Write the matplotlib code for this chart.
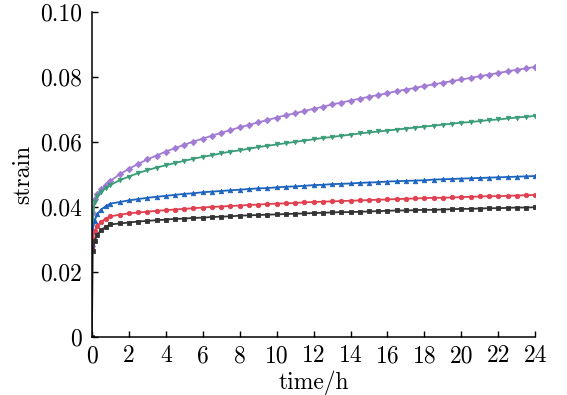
import numpy as np
import matplotlib
matplotlib.use("Agg")
from matplotlib import pyplot as plt

plt.rcParams['font.family'] = ['cmr10', 'DejaVu Serif']
plt.rcParams['axes.formatter.use_mathtext'] = True
plt.rcParams['mathtext.fontset'] = 'cm'

# time points (h)
time_h = [0, 0.05, 0.15, 0.3, 0.5, 0.75, 1,
          1.5, 2, 2.5, 3, 3.5, 4, 4.5, 5, 5.5, 6, 6.5, 7, 7.5, 8,
          8.5, 9, 9.5, 10, 10.5, 11, 11.5, 12, 12.5, 13, 13.5, 14,
          14.5, 15, 15.5, 16, 16.5, 17, 17.5, 18, 18.5, 19, 19.5, 20,
          20.5, 21, 21.5, 22, 22.5, 23, 23.5, 24]

strain_black = [0.0, 0.0265, 0.0295, 0.0315, 0.0328, 0.0339, 0.0346,
                0.0349, 0.0352, 0.0355, 0.0357, 0.0359, 0.0361, 0.0363, 0.0364, 0.0366, 0.0367, 0.0369, 0.0370, 0.0371, 0.0373,
                0.0374, 0.0375, 0.0376, 0.0377, 0.0378, 0.0379, 0.0380, 0.0381, 0.0382, 0.0383, 0.0384, 0.0384,
                0.0385, 0.0386, 0.0387, 0.0388, 0.0389, 0.0389, 0.0390, 0.0391, 0.0391, 0.0392, 0.0393, 0.0394,
                0.0394, 0.0395, 0.0396, 0.0396, 0.0397, 0.0398, 0.0398, 0.0399]

strain_red = [0.027, 0.0300, 0.0325, 0.0342, 0.0354, 0.0364, 0.0371,
              0.0376, 0.0380, 0.0383, 0.0385, 0.0388, 0.0390, 0.0392, 0.0394, 0.0396, 0.0398, 0.0400, 0.0401, 0.0403, 0.0404,
              0.0406, 0.0407, 0.0409, 0.0410, 0.0411, 0.0412, 0.0414, 0.0415, 0.0416, 0.0417, 0.0418, 0.0419,
              0.0420, 0.0421, 0.0422, 0.0423, 0.0424, 0.0425, 0.0426, 0.0427, 0.0428, 0.0428, 0.0429, 0.0430,
              0.0431, 0.0432, 0.0433, 0.0433, 0.0434, 0.0435, 0.0436, 0.0437]

strain_blue = [0.028, 0.0330, 0.0358, 0.0378, 0.0392, 0.0402, 0.0410,
               0.0415, 0.0420, 0.0424, 0.0428, 0.0431, 0.0434, 0.0437, 0.0440, 0.0442, 0.0445, 0.0447, 0.0449, 0.0451, 0.0453,
               0.0455, 0.0457, 0.0458, 0.0460, 0.0462, 0.0463, 0.0465, 0.0467, 0.0468, 0.0470, 0.0471, 0.0472,
               0.0474, 0.0475, 0.0476, 0.0478, 0.0479, 0.0480, 0.0481, 0.0482, 0.0484, 0.0485, 0.0486, 0.0487,
               0.0488, 0.0489, 0.0490, 0.0491, 0.0492, 0.0493, 0.0494, 0.0495]

strain_green = [0.028, 0.0360, 0.0415, 0.0435, 0.0447, 0.0458, 0.0467,
                0.0482, 0.0493, 0.0504, 0.0513, 0.0521, 0.0528, 0.0535, 0.0542, 0.0548, 0.0554, 0.0559, 0.0565, 0.0570, 0.0574,
                0.0579, 0.0584, 0.0588, 0.0592, 0.0596, 0.0600, 0.0604, 0.0608, 0.0612, 0.0615, 0.0619, 0.0622,
                0.0626, 0.0629, 0.0632, 0.0635, 0.0638, 0.0641, 0.0644, 0.0647, 0.0650, 0.0653, 0.0656, 0.0659,
                0.0661, 0.0664, 0.0667, 0.0669, 0.0672, 0.0675, 0.0677, 0.0680]

strain_purple = [0.028, 0.0380, 0.0425, 0.0439, 0.0454, 0.0468, 0.0480,
                 0.0500, 0.0517, 0.0532, 0.0546, 0.0558, 0.0570, 0.0581, 0.0591, 0.0601, 0.0610, 0.0619, 0.0628, 0.0636, 0.0645,
                 0.0652, 0.0660, 0.0667, 0.0675, 0.0682, 0.0688, 0.0695, 0.0702, 0.0708, 0.0715, 0.0721, 0.0727,
                 0.0733, 0.0739, 0.0744, 0.0750, 0.0756, 0.0761, 0.0766, 0.0772, 0.0777, 0.0782, 0.0787, 0.0792,
                 0.0797, 0.0802, 0.0807, 0.0812, 0.0817, 0.0822, 0.0826, 0.0831]

series = [
    (strain_purple, '#a27bd4', 'D'),
    (strain_green, '#3b9c78', 'v'),
    (strain_blue, '#1d64bf', '^'),
    (strain_red, '#e0404f', 'o'),
    (strain_black, '#333333', 's'),
]

x_ticks = [0, 2, 4, 6, 8, 10, 12, 14, 16, 18, 20, 22, 24]
y_ticks = [0, 0.02, 0.04, 0.06, 0.08, 0.10]
y_ticklabels = ['0', '0.02', '0.04', '0.06', '0.08', '0.10']

fig = plt.figure(figsize=(5.67, 3.95), dpi=100)
ax = fig.add_axes([0.162, 0.147, 0.782, 0.823])

for vals, col, mk in series:
    ax.plot(time_h, vals, color=col, lw=1.3, marker=mk, markersize=3.2,
            markeredgewidth=0.6, markerfacecolor=col, markeredgecolor=col)

ax.set_xlim(0, 24)
ax.set_ylim(0, 0.10)
ax.set_xticks(x_ticks)
ax.set_xticklabels([str(t) for t in x_ticks])
ax.set_yticks(y_ticks)
ax.set_yticklabels(y_ticklabels)
ax.tick_params(axis='x', direction='in', length=4, width=1, labelsize=17, pad=6)
ax.tick_params(axis='y', direction='in', length=4, width=1, labelsize=17, pad=7)
ax.spines['top'].set_visible(False)
ax.spines['right'].set_visible(False)
ax.spines['left'].set_linewidth(1.1)
ax.spines['bottom'].set_linewidth(1.1)
ax.set_xlabel('time/h', fontsize=17, labelpad=2)
ax.set_ylabel('strain', fontsize=17, labelpad=4)

fig.savefig('out.png', dpi=100)
